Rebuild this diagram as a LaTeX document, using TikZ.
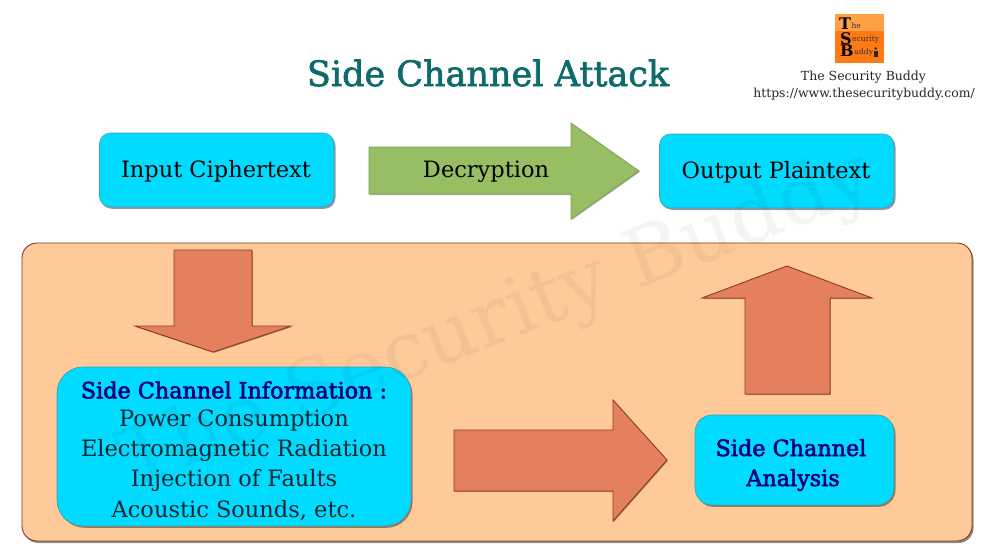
\documentclass[tikz,border=0pt]{standalone}
\usepackage{fontspec}
\setmainfont{DejaVu Serif}
\newfontfamily\titlefont[FakeBold=1.8]{DejaVu Serif}
\newfontfamily\headfont[FakeBold=2.6]{DejaVu Serif}
\usetikzlibrary{shadows}
\definecolor{boxcyan}{HTML}{00DBFF}
\definecolor{boxedge}{HTML}{3D9DB5}
\definecolor{panelfill}{HTML}{FFCA99}
\definecolor{paneledge}{HTML}{8A2F1C}
\definecolor{blockfill}{HTML}{E5805F}
\definecolor{blockedge}{HTML}{8E3A22}
\definecolor{greenfill}{HTML}{97BE62}
\definecolor{greenedge}{HTML}{7F9F55}
\definecolor{titleteal}{HTML}{0F6B6B}
\definecolor{headnavy}{HTML}{000080}
\definecolor{bodyink}{HTML}{0A2530}
\definecolor{logolight}{HTML}{FFA046}
\definecolor{logodark}{HTML}{FF7A14}
\tikzset{
  x=1pt,y=-1pt,
  softshadow/.style={drop shadow={shadow xshift=1.5pt,shadow yshift=-1.8pt,fill=black,opacity=.4}},
  cyanbox/.style={draw=boxedge,line width=.6pt,fill=boxcyan,rounded corners=#1,softshadow},
  blockarrow/.style={draw=blockedge,line width=.9pt,fill=blockfill,line join=miter,drop shadow={shadow xshift=.8pt,shadow yshift=-1pt,fill=black,opacity=.35}},
  label/.style={font=\fontsize{22.5}{30}\selectfont,text=black,align=center},
  headlabel/.style={font=\headfont\fontsize{22.3}{30}\selectfont,text=headnavy,align=center,inner sep=0pt},
  logobig/.style={anchor=west,inner sep=0pt,font=\fontsize{16}{16}\selectfont\bfseries},
  logosmall/.style={anchor=west,inner sep=0pt,font=\fontsize{7.6}{8}\selectfont,text=black!80},
}
\begin{document}
\begin{tikzpicture}
\useasboundingbox (0,0) rectangle (992,558);
\fill[white] (0,0) rectangle (992,558);
% panel
\path[draw=paneledge,line width=.9pt,fill=panelfill,rounded corners=15pt,drop shadow={shadow xshift=1.5pt,shadow yshift=-2pt,fill=black,opacity=.45}]
  (22,243) rectangle (972,541);
% title
\node[font=\titlefont\fontsize{35}{40}\selectfont,text=titleteal,inner sep=0pt] (title) at (488,73) {Side Channel Attack};
% logo
\fill[logodark] (835,14) rectangle (884,63);
\fill[logolight] (835,14) rectangle (884,31);
\node[logobig] (lt) at (839,24) {T};
\node[logosmall] (lth) at ([yshift=-2pt]lt.east) {he};
\node[logobig] (ls) at (840,38.5) {S};
\node[logosmall] (lse) at ([yshift=-1pt]ls.east) {ecurity};
\node[logobig] (lb) at (840,51) {B};
\node[logosmall] (lbu) at ([yshift=-1pt]lb.east) {uddy};
\fill[black!85] (873.5,51) rectangle (878,57);
\fill[black!85] (875.7,48.5) circle (1.4);
\node[font=\fontsize{12.5}{14}\selectfont,text=black!85,inner sep=0pt] (brand) at (863.5,77) {The Security Buddy};
\node[font=\fontsize{12.4}{14}\selectfont,text=black!85,inner sep=0pt] (url) at (864,94) {https://www.thesecuritybuddy.com/};
% top row
\path[cyanbox=11pt] (99.5,133) rectangle (334,207);
\node[label] (input) at (216,171) {Input Ciphertext};
\path[draw=greenedge,line width=.8pt,fill=greenfill,drop shadow={shadow xshift=.8pt,shadow yshift=-1pt,fill=black,opacity=.3}]
  (369,147) -- (571,147) -- (571,123) -- (639,171) -- (571,219) -- (571,194) -- (369,194) -- cycle;
\node[label] (decrypt) at (486,172) {Decryption};
\path[cyanbox=11pt] (659.5,134) rectangle (894,208);
\node[label] (output) at (776,172) {Output Plaintext};
% block arrows in panel
\path[blockarrow] (174,250) -- (252,250) -- (252,326) -- (291,326) -- (213,352) -- (135,326) -- (174,326) -- cycle;
\path[blockarrow] (454,430) -- (613,430) -- (613,400) -- (667,460) -- (613,521) -- (613,491) -- (454,491) -- cycle;
\path[blockarrow] (745,394) -- (745,298) -- (702,298) -- (787,266) -- (872,298) -- (830,298) -- (830,394) -- cycle;
% info box
\path[cyanbox=26pt] (57,367) rectangle (411,526);
\node[headlabel] (infohead) at (234,390) {Side Channel Information :};
\node[label,text=bodyink,inner sep=0pt] (l1) at (234,420) {Power Consumption};
\node[label,text=bodyink,inner sep=0pt] (l2) at (234,450) {Electromagnetic Radiation};
\node[label,text=bodyink,inner sep=0pt] (l3) at (234,480) {Injection of Faults};
\node[label,text=bodyink,inner sep=0pt] (l4) at (234,510) {Acoustic Sounds, etc.};
% analysis box
\path[cyanbox=17pt] (695,415) rectangle (894,505);
\node[headlabel] (analysis) at (791,465) {Side Channel\\\hspace*{4pt}Analysis};
% watermark on top of all
\node[rotate=21.5,text=black,opacity=.045,font=\fontsize{80}{90}\selectfont,inner sep=0pt,anchor=base east] (mark) at (878,195) {The Security Buddy};
\end{tikzpicture}
\end{document}
